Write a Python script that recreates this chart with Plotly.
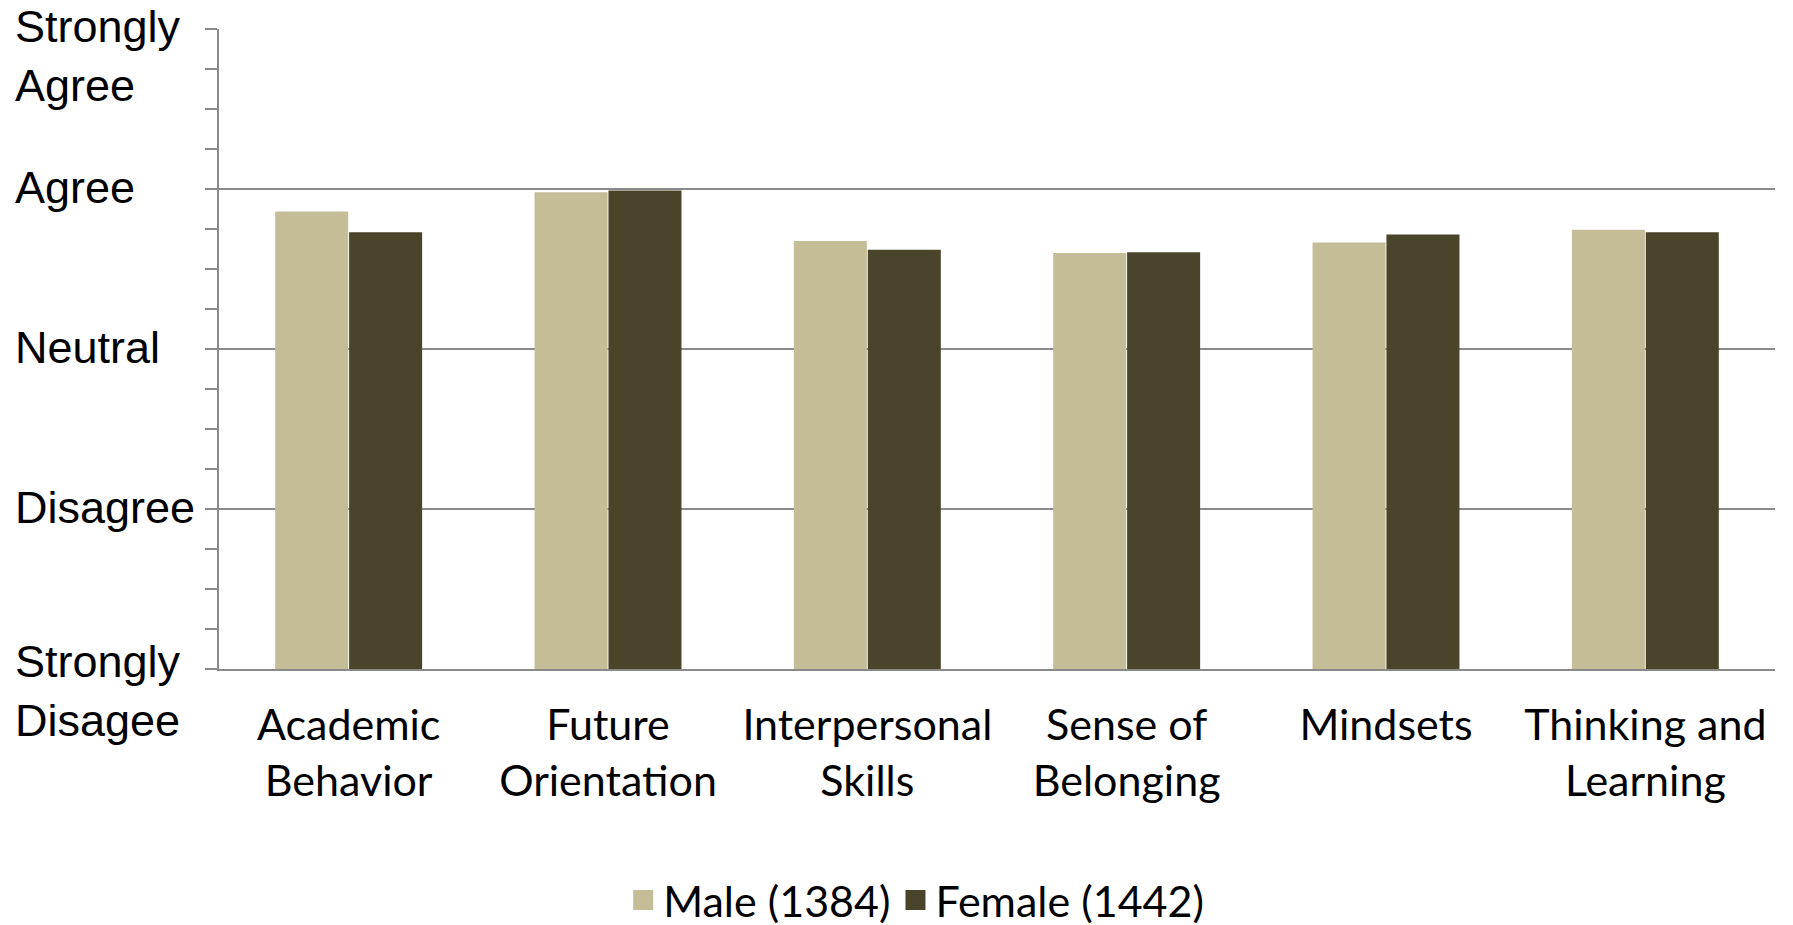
import plotly.graph_objects as go

# Survey domains (x categories)
categories = [
    "Academic<br>Behavior",
    "Future<br>Orientation",
    "Interpersonal<br>Skills",
    "Sense of<br>Belonging",
    "Mindsets",
    "Thinking and<br>Learning",
]

# Mean response per domain (1 = Strongly Disagree ... 5 = Strongly Agree)
male_scores = [3.86, 3.98, 3.675, 3.60, 3.665, 3.745]
female_scores = [3.73, 3.99, 3.62, 3.605, 3.715, 3.73]

series_names = ["Male (1384)", "Female (1442)"]

# Likert scale labels for the y axis
scale_values = [1, 2, 3, 4, 5]
scale_labels = ["Strongly<br>Disagee", "Disagree", "Neutral", "Agree", "Strongly<br>Agree"]

MALE_COLOR = "#C4BD97"
FEMALE_COLOR = "#4A452A"
GRID_COLOR = "#8A8A8A"
LABEL_FONT = "Lato, 'Open Sans', sans-serif"
SCALE_FONT = "'Liberation Sans', Arial, sans-serif"

fig = go.Figure()

for name, scores, color in [
    (series_names[0], male_scores, MALE_COLOR),
    (series_names[1], female_scores, FEMALE_COLOR),
]:
    fig.add_trace(go.Bar(
        x=categories,
        y=scores,
        name=name,
        marker=dict(color=color, line=dict(width=0)),
        showlegend=False,
    ))
    # legend swatch (larger square than the default bar swatch)
    fig.add_trace(go.Scatter(
        x=[None], y=[None],
        mode="markers",
        name=name,
        marker=dict(symbol="square", size=16, color=color,
                    line=dict(color=color, width=4)),
        showlegend=True,
    ))

# Left-aligned Likert labels beside the y axis
label_shift = {1: -22, 2: 2, 3: 2, 4: 2, 5: -27}
for val, text in zip(scale_values, scale_labels):
    fig.add_annotation(
        x=-0.1325, xref="paper", xanchor="left",
        y=val, yref="y", yanchor="middle",
        yshift=label_shift[val],
        text=text, showarrow=False, align="left",
        font=dict(family=SCALE_FONT, size=45, color="#000000"),
    )

fig.update_layout(
    width=1793,
    height=925,
    margin=dict(l=219, r=18, t=29, b=256),
    paper_bgcolor="#FFFFFF",
    plot_bgcolor="#FFFFFF",
    barmode="group",
    bargap=0.43,
    bargroupgap=0.012,
    showlegend=True,
    legend=dict(
        orientation="h",
        xref="container", x=0.511, xanchor="center",
        yref="container", y=0.027, yanchor="middle",
        font=dict(family=LABEL_FONT, size=43, color="#000000"),
        itemwidth=30,
        tracegroupgap=0,
    ),
    xaxis=dict(
        type="category",
        showline=True, linecolor=GRID_COLOR, linewidth=1.5,
        ticks="", showgrid=False,
        tickfont=dict(family=LABEL_FONT, size=43, color="#000000"),
        ticklabelstandoff=18,
        fixedrange=True,
    ),
    yaxis=dict(
        range=[1, 5],
        tickvals=scale_values,
        showticklabels=False,
        showgrid=True, gridcolor=GRID_COLOR, gridwidth=1.5,
        showline=True, linecolor=GRID_COLOR, linewidth=1.5,
        ticks="outside", ticklen=12, tickcolor=GRID_COLOR, tickwidth=1.5,
        minor=dict(dtick=0.25, ticks="outside", ticklen=12,
                   tickcolor=GRID_COLOR, tickwidth=1.5, showgrid=False),
        zeroline=False,
        fixedrange=True,
    ),
)

fig.write_html("out.html")
